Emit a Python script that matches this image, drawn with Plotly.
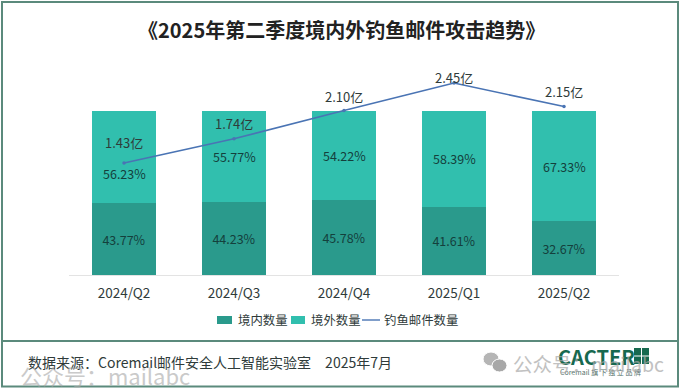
import plotly.graph_objects as go

categories = ["2024/Q2", "2024/Q3", "2024/Q4", "2025/Q1", "2025/Q2"]
domestic = [43.77, 44.23, 45.78, 41.61, 32.67]
overseas = [56.23, 55.77, 54.22, 58.39, 67.33]
phishing = [1.43, 1.74, 2.10, 2.45, 2.15]
series_names = ["境内数量", "境外数量", "钓鱼邮件数量"]

line_label_shift = [20, 15, 14, 6, 15]
overseas_label_shift = [-16, 0, 0, 0, 0]

W, H = 680, 390
CJK = "Noto Sans CJK SC, Noto Sans, sans-serif"
TXT = "#2f3b3a"
DARK = "#2a9a8c"
LIGHT = "#31bfae"
FRAME = "#5b8a7c"
LINE = "#4a74b4"
LOGO = "#17694f"


def px(x):
    return x / W


def py(y):
    return 1 - y / H


fig = go.Figure()
fig.add_bar(
    name=series_names[0], x=categories, y=domestic, marker_color=DARK, marker_line_width=0,
    text=[f"{v:.2f}%" for v in domestic], textposition="inside", insidetextanchor="middle",
    textangle=0, textfont=dict(color="#14403c", size=12.5, family=CJK),
)
fig.add_bar(name=series_names[1], x=categories, y=overseas, marker_color=LIGHT, marker_line_width=0)
fig.add_scatter(
    name=series_names[2], x=categories, y=phishing, yaxis="y2", mode="lines+markers",
    line=dict(color=LINE, width=1.6), marker=dict(size=3.5, color=LINE),
)

ann = []
for c, d, o, s in zip(categories, domestic, overseas, overseas_label_shift):
    ann.append(dict(x=c, y=d + o / 2, yref="y", text=f"{o:.2f}%", showarrow=False, yshift=s,
                    font=dict(color="#14403c", size=12.5, family=CJK)))
for c, p, s in zip(categories, phishing, line_label_shift):
    ann.append(dict(x=c, y=p, yref="y2", text=f"{p:.2f}亿", showarrow=False, yshift=s,
                    font=dict(color=TXT, size=13, family=CJK)))


def note(x, y, text, size, color=TXT, anchor="left", bold=False, opacity=1):
    t = f"<b>{text}</b>" if bold else text
    ann.append(dict(xref="paper", yref="paper", x=px(x), y=py(y), text=t, showarrow=False,
                    xanchor=anchor, yanchor="middle", opacity=opacity, xshift=0,
                    borderpad=0, font=dict(size=size, color=color, family=CJK)))


def pline(x0, y0, x1, y1, color, width):
    return dict(type="line", xref="paper", yref="paper", x0=px(x0), x1=px(x1), y0=py(y0), y1=py(y1),
                line=dict(color=color, width=width), layer="above")


def prect(x0, y0, x1, y1, color):
    return dict(type="rect", xref="paper", yref="paper", x0=px(x0), x1=px(x1), y0=py(y0), y1=py(y1),
                fillcolor=color, line_width=0)


def pdot(x0, y0, x1, y1, color):
    return dict(type="circle", xref="paper", yref="paper", x0=px(x0), x1=px(x1), y0=py(y0), y1=py(y1),
                fillcolor=color, line=dict(color="white", width=1))


note(341, 30, "《2025年第二季度境内外钓鱼邮件攻击趋势》", 20, "#222222", "center", True)
note(27, 362, "数据来源：Coremail邮件安全人工智能实验室　2025年7月", 14)
note(557, 356, "CACTER", 20, LOGO, "left", True)
note(559, 372, "Coremail 旗 下 独 立 品 牌", 7, "#55706a")
note(19, 375, "公众号：mailabc", 22, "#a8a8a8", opacity=0.6)
note(512, 363, "公众号：mailabc", 19.5, "#a8a8a8", opacity=0.7)
note(237, 320, series_names[0], 12.4)
note(310, 320, series_names[1], 12.4)
note(383, 320, series_names[2], 12.4)

shapes = [
    dict(type="rect", xref="paper", yref="paper", x0=px(2), x1=px(678), y0=py(2), y1=py(386.5),
         line=dict(color=FRAME, width=2), layer="above"),
    pline(2, 341, 678, 341, FRAME, 2),
    prect(217, 316, 232, 324, DARK),
    prect(291, 316, 305, 324, LIGHT),
    pline(362, 320, 380, 320, LINE, 1.4),
    pdot(483, 352, 499, 366, "#b5b5b5"),
    pdot(492, 359, 507, 372, "#a8a8a8"),
    prect(634, 348, 649, 364, LOGO),
    pline(641.5, 348, 641.5, 364, "white", 1),
    pline(634, 356, 649, 356, "white", 1),
]

fig.update_layout(
    width=W, height=H, margin=dict(l=0, r=0, t=0, b=0),
    paper_bgcolor="white", plot_bgcolor="white",
    barmode="stack", bargap=0.427, showlegend=False,
    font=dict(family=CJK, color=TXT, size=13),
    xaxis=dict(domain=[px(69), px(619)], showgrid=False, ticks="", showline=True,
               linecolor="#e3e3e3", linewidth=1, tickfont=dict(size=13.5, color=TXT),
               range=[-0.5, 4.5], ticklabelstandoff=6),
    yaxis=dict(domain=[py(275), py(40)], range=[0, 143.3], visible=False),
    yaxis2=dict(domain=[py(275), py(40)], overlaying="y", range=[0, 3], visible=False),
    annotations=ann, shapes=shapes,
)
fig.write_html(
    "out.html",
    config={"displayModeBar": False},
    post_script="document.body.style.margin='0';document.documentElement.style.overflow='hidden';",
)
